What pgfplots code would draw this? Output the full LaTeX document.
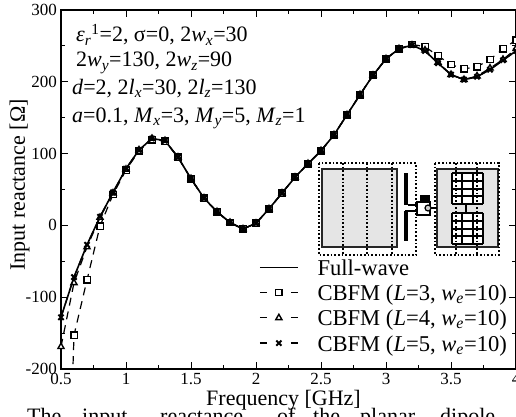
\documentclass[border=0pt]{standalone}
\usepackage{pgfplots}
\usepackage{pgfplotstable}
\usepackage{fontspec}
\setmainfont{Liberation Serif}
\pgfplotsset{compat=1.18}
\newcommand{\ssub}[1]{\textsubscript{\textit{#1}}}
\newcommand{\fsz}{\fontsize{22}{24}\selectfont}
\pgfplotstableread{
f fw l3 l4 l5
0.5 -128 -700 -169 -128
0.6 -72 -153 -80 -72
0.7 -27 -76 -30 -27
0.8 12 -1 11 12
0.9 46 43 45 46
1.0 79 77 78 79
1.1 105 104 105 105
1.2 121 119 121 121
1.3 118 117 118 118
1.4 95 95 95 95
1.5 65 65 65 65
1.6 38 38 38 38
1.7 19 19 19 19
1.8 4 4 4 4
1.9 -5 -5 -5 -5
2.0 3 3 3 3
2.1 23 23 23 23
2.2 45 45 45 45
2.3 67 67 67 67
2.4 86 86 86 86
2.5 104 104 104 104
2.6 126 126 126 126
2.7 154 154 154 154
2.8 182 182 182 182
2.9 209 209 209 209
3.0 232 232 232 232
3.1 246 246 246 246
3.2 251 252 251 251
3.3 243 249 244 243
3.4 226 236 227 226
3.5 210 224 210 210
3.6 203 218 203 203
3.7 207 221 208 207
3.8 217 231 219 217
3.9 230 246 231 230
4.0 243 258 246 243
}\data
\pgfplotsset{
  dashleg/.style={legend image code/.code={
    \draw[##1,solid,mark=none,line width=1.3pt] (0pt,3.5pt)--(7pt,3.5pt) (31pt,3.5pt)--(38pt,3.5pt);
    \draw[##1,solid] plot coordinates {(19pt,3.5pt)};
  }},
}
\begin{document}
\begin{tikzpicture}
\path[use as bounding box] (-61pt,-47pt) rectangle (455pt,369pt);
\clip (-61pt,-47pt) rectangle (455pt,369pt);
\begin{axis}[
  scale only axis,
  width=455pt, height=359pt,
  xmin=0.5, xmax=4, ymin=-200, ymax=300,
  xtick={0.5,1,1.5,2,2.5,3,3.5,4},
  xticklabels={0.5,1,1.5,2,2.5,3,3.5,4},
  ytick={-200,-100,0,100,200,300},
  yticklabels={-200,-100,0,100,200,300},
  minor x tick num=1, minor y tick num=1,
  tick align=inside, tick pos=both,
  major tick length=7pt, minor tick length=4pt,
  axis line style={line width=1.3pt},
  every tick/.style={black,line width=1pt},
  clip mode=individual,
  tick label style={font=\fontsize{17}{19}\selectfont,inner sep=0pt},
  x tick label style={yshift=-4pt},
  y tick label style={xshift=-4pt},
  every axis x label/.style={at={(axis description cs:0.489,0)},yshift=-36pt,anchor=base,font=\fsz},
  every axis y label/.style={at={(axis description cs:0,0.5125)},xshift=-36pt,rotate=90,anchor=base,font=\fsz},
  xlabel={Frequency [GHz]},
  ylabel={Input reactance [Ω]},
  legend cell align=left,
  legend style={draw=none,fill=none,inner sep=0pt,font=\fontsize{22.6}{24}\selectfont,
    at={(axis description cs:0.4352,0.3036)},anchor=north west,
    /tikz/row sep=4.3pt,/tikz/column sep=0pt,
    /tikz/every node/.append style={inner sep=0pt,text height=15pt,text depth=6pt},
  },
  cycle list={black},
  mark size=3.2pt,
]
\addplot[black,line width=1.6pt,legend image code/.code={\draw[black,line width=1.2pt] (0pt,3.5pt)--(38pt,3.5pt);}] table[x=f,y=fw] {\data};
\addlegendentry{\hspace{19pt}Full-wave}
\addplot[black,line width=1.2pt,dash pattern=on 8pt off 6pt,mark=square*,dashleg,
  mark options={solid,fill=white,line width=1.4pt,scale=1}] table[x=f,y=l3] {\data};
\addlegendentry{\hspace{19pt}CBFM (\textit{L}=3, \textit{w}\ssub{e}=10)}
\addplot[black,line width=1.2pt,dash pattern=on 8pt off 6pt,mark=triangle*,dashleg,
  mark options={solid,fill=white,line width=1.4pt,scale=1.1}] table[x=f,y=l4] {\data};
\addlegendentry{\hspace{19pt}CBFM (\textit{L}=4, \textit{w}\ssub{e}=10)}
\addplot[black,line width=1.2pt,dash pattern=on 8pt off 6pt,mark=x,dashleg,
  mark options={solid,line width=2pt,scale=1.15}] table[x=f,y=l5] {\data};
\addlegendentry{\hspace{19pt}CBFM (\textit{L}=5, \textit{w}\ssub{e}=10)}
\end{axis}
% everything below in reference pixel coordinates
\begin{scope}[shift={(-61pt,369pt)},x=1pt,y=-1pt,font=\fsz]
\node[anchor=base west,inner sep=0pt] at (76,42) {\textit{ε}\textsubscript{\textit{r}}\textsuperscript{1}=2, σ=0, 2\textit{w}\ssub{x}=30};
\node[anchor=base west,inner sep=0pt] at (76,67) {2\textit{w}\ssub{y}=130, 2\textit{w}\ssub{z}=90};
\node[anchor=base west,inner sep=0pt] at (72,94) {\textit{d}=2, 2\textit{l}\ssub{x}=30, 2\textit{l}\ssub{z}=130};
\node[anchor=base west,inner sep=0pt] at (72,122) {\textit{a}=0.1, \textit{M}\ssub{x}=3, \textit{M}\ssub{y}=5, \textit{M}\ssub{z}=1};
% inset sketch of the antenna
\fill[gray!20] (322,169) rectangle (397,247);
\draw[line width=1.6pt,black!85] (322,169) rectangle (397,247);
\fill[gray!20] (437,169) rectangle (498,247);
\draw[line width=1.6pt,black!85] (437,169) rectangle (498,247);
\draw[line width=1.7pt,dotted] (319,163) rectangle (416,255);
\draw[line width=1.7pt,dotted] (435,163) rectangle (499,255);
\foreach \xx in {343,367,392} \draw[line width=1.7pt,dotted] (\xx,163)--(\xx,255);
\fill (404,173) rectangle (408,205);
\fill (404,211) rectangle (408,241);
\draw[line width=1.3pt] (408,205)--(417,205) (405,211)--(417,211);
\draw[line width=1.2pt] (417,202) rectangle (430,215);
\fill (420,195) rectangle (430,203);
\draw[line width=1.2pt,fill=gray!40] (428,208) circle (3);
\draw[line width=1.2pt] (431,208)--(437,208);
\foreach \yo in {173,213} {
  \fill[white] (452,\yo) rectangle (483,\yo+31);
  \foreach \dx in {0,10.3,20.6,31} \draw[line width=2pt] (452+\dx,\yo)--(452+\dx,\yo+31);
  \foreach \dy in {0,7.75,15.5,23.25,31} \draw[line width=2pt] (452,\yo+\dy)--(483,\yo+\dy);
}
\draw[line width=1.4pt] (466,204)--(466,213);
\foreach \xx in {456,477} \draw[line width=1.7pt,dotted] (\xx,163)--(\xx,255);
% caption of the page, cut off by the crop
\foreach \xx/\word in {-10/2.,27/The,82/input,160/reactance,277/of,313/the,360/planar,440/dipole-}
  \node[anchor=base west,inner sep=0pt] at (\xx,423) {\word};
\end{scope}
\end{tikzpicture}
\end{document}
